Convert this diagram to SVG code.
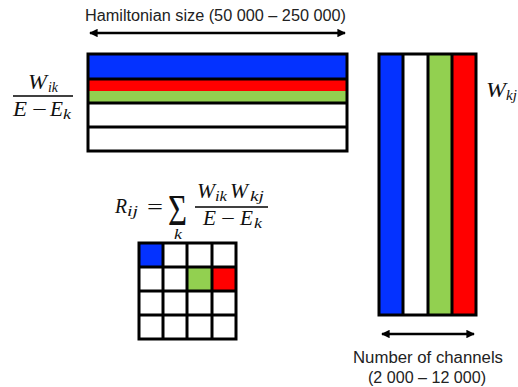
<svg xmlns="http://www.w3.org/2000/svg" width="518" height="387" viewBox="0 0 518 387">
<style>
.lbl{font-family:"Liberation Sans",Arial,sans-serif;font-size:16px;fill:#222}
.m{font-family:"Liberation Serif","Times New Roman",serif;font-style:italic;fill:#111}
.up{font-family:"Liberation Serif","Times New Roman",serif;fill:#111}
.box{stroke:#000;stroke-width:3;fill:none}
.ln{stroke:#000;stroke-width:3}
.blue{fill:#0432FF}.red{fill:#FF0000}.green{fill:#92D050}.white{fill:#FFFFFF}
.arrow{stroke:#000;stroke-width:2.5;fill:none;marker-start:url(#ah);marker-end:url(#ah)}
</style>
<defs>
<marker id="ah" viewBox="0 0 10 10" refX="9" refY="5" markerWidth="4" markerHeight="3.4" orient="auto-start-reverse" markerUnits="strokeWidth">
<path d="M0,0 L10,5 L0,10 z" fill="#000"/>
</marker>
</defs>
<rect width="518" height="387" fill="#fff"/>

<g id="title">
<text class="lbl" x="85" y="21" textLength="261" lengthAdjust="spacingAndGlyphs">Hamiltonian size (50 000 – 250 000)</text>
</g>

<g id="top-matrix">
<rect class="blue" x="88" y="54" width="259" height="25"/>
<rect class="red" x="88" y="79" width="259" height="12"/>
<rect class="green" x="88" y="91" width="259" height="12"/>
<rect class="white" x="88" y="103" width="259" height="48"/>
<line class="ln" x1="88" y1="79" x2="347" y2="79"/>
<line class="ln" x1="88" y1="103" x2="347" y2="103"/>
<line class="ln" x1="88" y1="127" x2="347" y2="127"/>
<rect class="box" x="88" y="54" width="259" height="97"/>
</g>

<g id="left-fraction">
<text class="m" x="28" y="89" font-size="20" textLength="19" lengthAdjust="spacingAndGlyphs">W</text>
<text class="m" x="48" y="92" font-size="14" textLength="10" lengthAdjust="spacingAndGlyphs">ik</text>
<line x1="13" y1="96" x2="73" y2="96" stroke="#000" stroke-width="1.6"/>
<text class="m" x="13" y="116" font-size="20" textLength="14" lengthAdjust="spacingAndGlyphs">E</text>
<text class="up" x="32" y="116" font-size="20" textLength="15" lengthAdjust="spacingAndGlyphs">−</text>
<text class="m" x="50" y="116" font-size="20" textLength="13" lengthAdjust="spacingAndGlyphs">E</text>
<text class="m" x="63" y="119" font-size="14" textLength="8" lengthAdjust="spacingAndGlyphs">k</text>
</g>

<g id="right-matrix">
<rect class="blue" x="379" y="54" width="24" height="261"/>
<rect class="white" x="403" y="54" width="25" height="261"/>
<rect class="green" x="428" y="54" width="24" height="261"/>
<rect class="red" x="452" y="54" width="24" height="261"/>
<line class="ln" x1="403" y1="54" x2="403" y2="315"/>
<line class="ln" x1="428" y1="54" x2="428" y2="315"/>
<line class="ln" x1="452" y1="54" x2="452" y2="315"/>
<rect class="box" x="379" y="54" width="97" height="261"/>
</g>

<g id="wkj-label">
<text class="m" x="486" y="97" font-size="20" textLength="20" lengthAdjust="spacingAndGlyphs">W</text>
<text class="m" x="506" y="100" font-size="14" textLength="11" lengthAdjust="spacingAndGlyphs">kj</text>
</g>

<g id="formula">
<text class="m" x="115" y="213" font-size="20" textLength="12" lengthAdjust="spacingAndGlyphs">R</text>
<text class="m" x="127" y="216" font-size="14" textLength="11" lengthAdjust="spacingAndGlyphs">ij</text>
<text class="up" x="147" y="214" font-size="20" textLength="16" lengthAdjust="spacingAndGlyphs">=</text>
<text class="up" x="168" y="225" font-size="44" textLength="19" lengthAdjust="spacingAndGlyphs">Σ</text>
<text class="m" x="174" y="239" font-size="14" textLength="8" lengthAdjust="spacingAndGlyphs">k</text>
<text class="m" x="197" y="198" font-size="20" textLength="18" lengthAdjust="spacingAndGlyphs">W</text>
<text class="m" x="215" y="201" font-size="14" textLength="12" lengthAdjust="spacingAndGlyphs">ik</text>
<text class="m" x="230" y="198" font-size="20" textLength="18" lengthAdjust="spacingAndGlyphs">W</text>
<text class="m" x="250" y="201" font-size="14" textLength="14" lengthAdjust="spacingAndGlyphs">kj</text>
<line x1="195" y1="207" x2="268" y2="207" stroke="#000" stroke-width="1.6"/>
<text class="m" x="203" y="225" font-size="20" textLength="13" lengthAdjust="spacingAndGlyphs">E</text>
<text class="up" x="221" y="225" font-size="20" textLength="14" lengthAdjust="spacingAndGlyphs">−</text>
<text class="m" x="240" y="225" font-size="20" textLength="13" lengthAdjust="spacingAndGlyphs">E</text>
<text class="m" x="254" y="228" font-size="14" textLength="8" lengthAdjust="spacingAndGlyphs">k</text>
</g>

<g id="grid">
<rect class="white" x="139" y="243" width="97" height="96"/>
<rect class="blue" x="139" y="243" width="24" height="24"/>
<rect class="green" x="187" y="267" width="25" height="24"/>
<rect class="red" x="212" y="267" width="24" height="24"/>
<line class="ln" x1="163" y1="243" x2="163" y2="339"/>
<line class="ln" x1="187" y1="243" x2="187" y2="339"/>
<line class="ln" x1="212" y1="243" x2="212" y2="339"/>
<line class="ln" x1="139" y1="267" x2="236" y2="267"/>
<line class="ln" x1="139" y1="291" x2="236" y2="291"/>
<line class="ln" x1="139" y1="315" x2="236" y2="315"/>
<rect class="box" x="139" y="243" width="97" height="96"/>
</g>

<g id="channels-label">
<text class="lbl" x="353" y="363" textLength="150" lengthAdjust="spacingAndGlyphs">Number of channels</text>
<text class="lbl" x="368" y="383" textLength="118" lengthAdjust="spacingAndGlyphs">(2 000 – 12 000)</text>
</g>

<g id="connectors">
<line class="arrow" x1="90" y1="33" x2="345" y2="33"/>
<line class="arrow" x1="382" y1="334" x2="474" y2="334"/>
</g>
</svg>
